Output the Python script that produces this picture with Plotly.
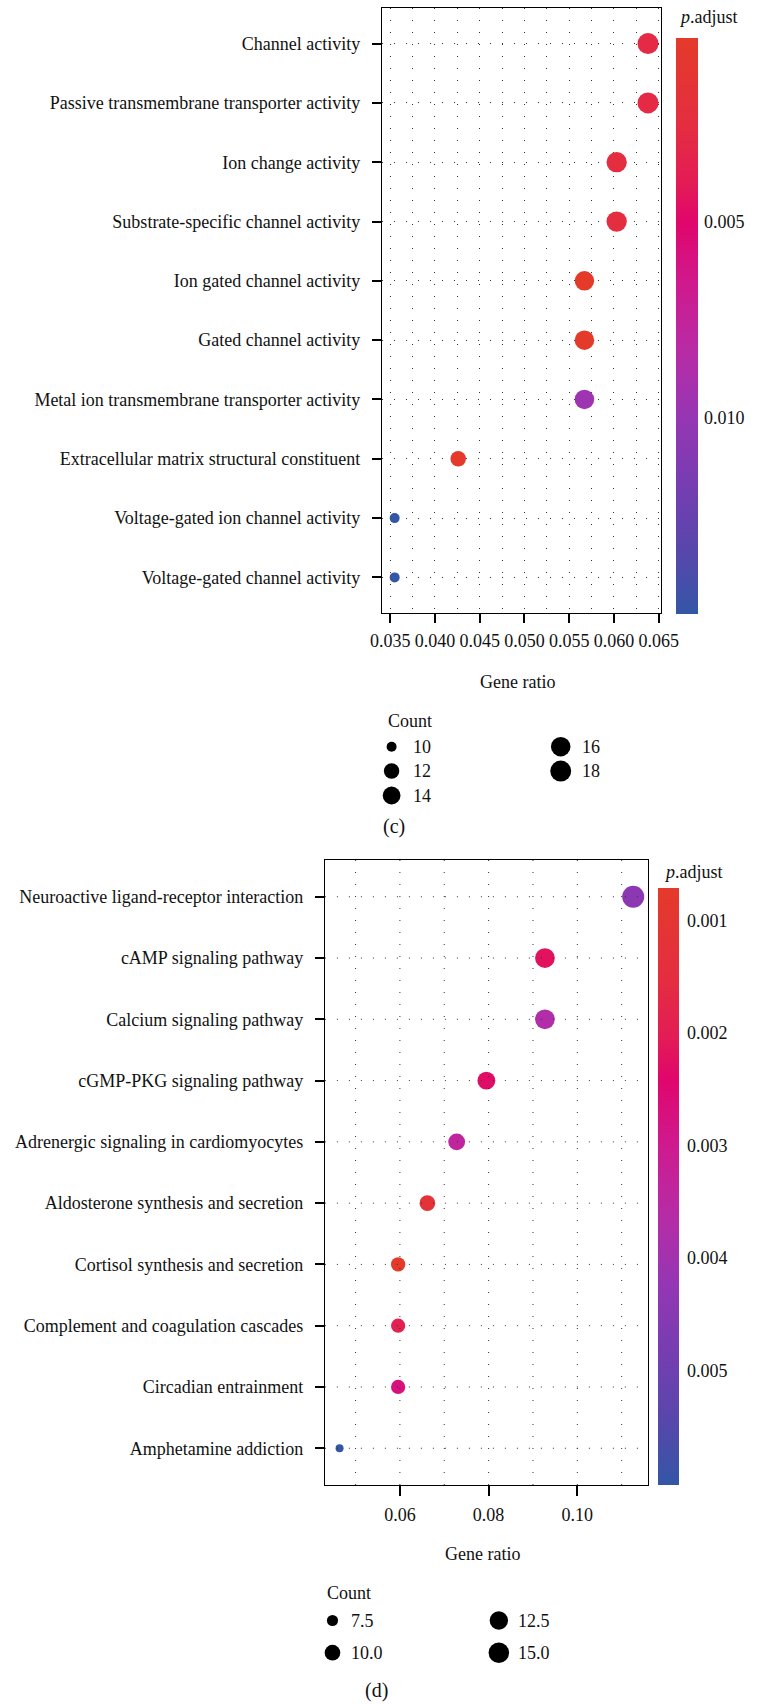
import plotly.graph_objects as go

W, H = 769, 1704
FONT = "Liberation Serif"
INK = "#111111"
DOT_GRID = "1px,11px"
GRID_COLOR = "#333333"

# ---------------- Panel (c): GO enrichment ----------------
c_terms = [
    "Channel activity",
    "Passive transmembrane transporter activity",
    "Ion change activity",
    "Substrate-specific channel activity",
    "Ion gated channel activity",
    "Gated channel activity",
    "Metal ion transmembrane transporter activity",
    "Extracellular matrix structural constituent",
    "Voltage-gated ion channel activity",
    "Voltage-gated channel activity",
]
c_ratio = [0.0638, 0.0638, 0.0603, 0.0603, 0.0567, 0.0567, 0.0567, 0.0426, 0.0355, 0.0355]
c_count = [18, 18, 17, 17, 16, 16, 16, 12, 10, 10]
c_padj = [0.0028, 0.0028, 0.0025, 0.0025, 0.0003, 0.0003, 0.0096, 0.0004, 0.0150, 0.0150]
c_xtick0, c_xdtick = 0.035, 0.005
c_cbar_ticks = [0.005, 0.010]
c_size_legend = [10, 12, 14, 16, 18]

# ---------------- Panel (d): KEGG enrichment ----------------
d_terms = [
    "Neuroactive ligand-receptor interaction",
    "cAMP signaling pathway",
    "Calcium signaling pathway",
    "cGMP-PKG signaling pathway",
    "Adrenergic signaling in cardiomyocytes",
    "Aldosterone synthesis and secretion",
    "Cortisol synthesis and secretion",
    "Complement and coagulation cascades",
    "Circadian entrainment",
    "Amphetamine addiction",
]
d_ratio = [0.1126, 0.0927, 0.0927, 0.0795, 0.0728, 0.0662, 0.0596, 0.0596, 0.0596, 0.0464]
d_count = [17, 14, 14, 12, 11, 10, 9, 9, 9, 7]
d_padj = [0.0044, 0.0022, 0.0037, 0.0023, 0.0034, 0.0012, 0.00071, 0.0019, 0.0027, 0.00602]
d_xtick0, d_xdtick = 0.06, 0.02
d_cbar_ticks = [0.001, 0.002, 0.003, 0.004, 0.005]
d_size_legend = [7.5, 10.0, 12.5, 15.0]

# red (low p.adjust) -> magenta -> purple -> blue (high p.adjust); position 0 = high p
_top_down = [
    (0.00, "#E43A2A"), (0.15, "#E42E40"), (0.25, "#E31C55"), (0.32, "#E0066C"),
    (0.43, "#CF1A8E"), (0.55, "#B62CA6"), (0.66, "#9636B4"), (0.80, "#703FB0"),
    (0.90, "#5548AA"), (1.00, "#3356A6"),
]
PADJ_SCALE = sorted([[round(1 - t, 4), col] for t, col in _top_down])


def px_x(x):
    return x / W


def px_y(y):
    return 1 - y / H


def size_fn(counts, dmin, dmax):
    lo, hi = min(counts), max(counts)
    return lambda v: dmin + (dmax - dmin) * ((v - lo) / (hi - lo)) ** 0.5


def expanded(vals, frac=0.05):
    lo, hi = min(vals), max(vals)
    pad = (hi - lo) * frac
    return [lo - pad, hi + pad]


c_size = size_fn(c_count, 10.0, 21.0)
d_size = size_fn(d_count, 8.0, 22.0)

fig = go.Figure()

fig.add_trace(go.Scatter(
    x=c_ratio, y=c_terms, mode="markers", xaxis="x", yaxis="y",
    marker=dict(size=[c_size(v) for v in c_count], color=[-p for p in c_padj],
                coloraxis="coloraxis", line=dict(width=0), opacity=1),
    showlegend=False, hoverinfo="skip", cliponaxis=False,
))
fig.add_trace(go.Scatter(
    x=d_ratio, y=d_terms, mode="markers", xaxis="x2", yaxis="y2",
    marker=dict(size=[d_size(v) for v in d_count], color=[-p for p in d_padj],
                coloraxis="coloraxis2", line=dict(width=0), opacity=1),
    showlegend=False, hoverinfo="skip", cliponaxis=False,
))

# size keys ("Count")
def key_positions(values, nrows):
    return [i // nrows for i in range(len(values))], [i % nrows for i in range(len(values))]

c_kx, c_ky = key_positions(c_size_legend, 3)
d_kx, d_ky = key_positions(d_size_legend, 2)
fig.add_trace(go.Scatter(
    x=c_kx, y=c_ky, mode="markers", xaxis="x3", yaxis="y3",
    marker=dict(size=[c_size(v) for v in c_size_legend], color="#000000", opacity=1,
                line=dict(width=0)),
    showlegend=False, hoverinfo="skip", cliponaxis=False,
))
fig.add_trace(go.Scatter(
    x=d_kx, y=d_ky, mode="markers", xaxis="x4", yaxis="y4",
    marker=dict(size=[d_size(v) for v in d_size_legend], color="#000000", opacity=1,
                line=dict(width=0)),
    showlegend=False, hoverinfo="skip", cliponaxis=False,
))

tick_font = dict(family=FONT, size=18, color=INK)
frame = dict(showline=True, mirror=True, linecolor="black", linewidth=1.2,
             zeroline=False, fixedrange=True)

fig.update_layout(
    width=W, height=H,
    margin=dict(l=0, r=0, t=0, b=0),
    paper_bgcolor="white", plot_bgcolor="white",
    font=dict(family=FONT, size=18, color=INK),
    showlegend=False,
    xaxis=dict(
        domain=[px_x(385), px_x(675)], range=expanded(c_ratio), anchor="y",
        tickmode="linear", tick0=c_xtick0, dtick=c_xdtick, tickformat=".3f",
        ticks="outside", ticklen=9, tickwidth=2, tickcolor="black",
        tickfont=tick_font, ticklabelstandoff=2,
        showgrid=True, gridcolor=GRID_COLOR, gridwidth=1, griddash=DOT_GRID,
        minor=dict(tick0=c_xtick0, dtick=c_xdtick / 2, showgrid=True, gridcolor=GRID_COLOR,
                   gridwidth=1, griddash=DOT_GRID, ticks=""),
        **frame,
    ),
    yaxis=dict(
        domain=[px_y(613), px_y(8)], anchor="x",
        categoryorder="array", categoryarray=c_terms, type="category",
        range=[len(c_terms) - 1 + 0.6, -0.6],
        ticks="outside", ticklen=9, tickwidth=2, tickcolor="black",
        tickfont=tick_font, ticklabelstandoff=8,
        showgrid=True, gridcolor=GRID_COLOR, gridwidth=1, griddash=DOT_GRID,
        **frame,
    ),
    xaxis2=dict(
        domain=[px_x(325.6), px_x(661.7)], range=expanded(d_ratio), anchor="y2",
        tickmode="linear", tick0=d_xtick0, dtick=d_xdtick, tickformat=".2f",
        ticks="outside", ticklen=10, tickwidth=2, tickcolor="black",
        tickfont=tick_font, ticklabelstandoff=3,
        showgrid=False,
        **frame,
    ),
    yaxis2=dict(
        domain=[px_y(1485), px_y(860)], anchor="x2",
        categoryorder="array", categoryarray=d_terms, type="category",
        range=[len(d_terms) - 1 + 0.6, -0.6],
        ticks="outside", ticklen=9, tickwidth=2, tickcolor="black",
        tickfont=tick_font, ticklabelstandoff=8,
        showgrid=False,
        **frame,
    ),
    xaxis3=dict(domain=[px_x(395), px_x(571)], range=[0, 1], visible=False, fixedrange=True, anchor="y3"),
    yaxis3=dict(domain=[px_y(795.5), px_y(746.7)], range=[2, 0], visible=False, fixedrange=True, anchor="x3"),
    xaxis4=dict(domain=[px_x(333.5), px_x(506.6)], range=[0, 1], visible=False, fixedrange=True, anchor="y4"),
    yaxis4=dict(domain=[px_y(1652.7), px_y(1620.5)], range=[1, 0], visible=False, fixedrange=True, anchor="x4"),
    coloraxis=dict(
        colorscale=PADJ_SCALE, cmin=-max(c_padj), cmax=-min(c_padj),
        colorbar=dict(
            x=px_x(691), xanchor="left", y=px_y(38), yanchor="top",
            len=576, lenmode="pixels", thickness=22, thicknessmode="pixels",
            xpad=0, ypad=0, outlinewidth=0,
            tickmode="array", tickvals=[-v for v in c_cbar_ticks],
            ticktext=[f"{v:.3f}" for v in c_cbar_ticks],
            ticks="outside", ticklen=3, tickcolor="rgba(0,0,0,0)",
            tickfont=tick_font, title=dict(text=""),
        ),
    ),
    coloraxis2=dict(
        colorscale=PADJ_SCALE, cmin=-max(d_padj), cmax=-min(d_padj),
        colorbar=dict(
            x=px_x(672.7), xanchor="left", y=px_y(888), yanchor="top",
            len=597, lenmode="pixels", thickness=21, thicknessmode="pixels",
            xpad=0, ypad=0, outlinewidth=0,
            tickmode="array", tickvals=[-v for v in d_cbar_ticks],
            ticktext=[f"{v:.3f}" for v in d_cbar_ticks],
            ticks="outside", ticklen=5, tickcolor="rgba(0,0,0,0)",
            tickfont=tick_font, title=dict(text=""),
        ),
    ),
)

# Panel (d) dotted grid is drawn over the points
d_lo, d_hi = expanded(d_ratio)
d_grid_x = []
k = int(d_lo / (d_xdtick / 2)) + 1
while k * (d_xdtick / 2) < d_hi:
    d_grid_x.append(round(k * d_xdtick / 2, 4))
    k += 1
grid_line = dict(color=GRID_COLOR, width=1, dash=DOT_GRID)
for gx in d_grid_x:
    fig.add_shape(type="line", xref="x2", yref="y2 domain", x0=gx, x1=gx, y0=0, y1=1,
                  line=grid_line, layer="above")
for i in range(len(d_terms)):
    fig.add_shape(type="line", xref="x2 domain", yref="y2", x0=0, x1=1, y0=i, y1=i,
                  line=grid_line, layer="above")

# text labels
def note(text, x, y, xanchor="center", size=18, **kw):
    fig.add_annotation(text=text, x=px_x(x), y=px_y(y), xref="paper", yref="paper",
                       xanchor=xanchor, yanchor="middle", showarrow=False,
                       font=dict(family=FONT, size=size, color=INK), **kw)

note("<i>p</i>.adjust", 692, 17, xanchor="left")
note("Gene ratio", 526, 682)
note("Count", 389, 721, xanchor="left")
note("(c)", 397, 826, size=20)

note("<i>p</i>.adjust", 676, 872, xanchor="left")
note("Gene ratio", 490, 1554)
note("Count", 325.6, 1593, xanchor="left")
note("(d)", 379, 1690, size=20)

for v, kx, ky in zip(c_size_legend, c_kx, c_ky):
    fig.add_annotation(text=f"{v}", x=kx, y=ky, xref="x3", yref="y3", xanchor="left",
                       yanchor="middle", xshift=19, showarrow=False,
                       font=dict(family=FONT, size=18, color=INK))
for v, kx, ky in zip(d_size_legend, d_kx, d_ky):
    fig.add_annotation(text=f"{v:.1f}", x=kx, y=ky, xref="x4", yref="y4", xanchor="left",
                       yanchor="middle", xshift=17, showarrow=False,
                       font=dict(family=FONT, size=18, color=INK))

fig.write_html("out.html")
